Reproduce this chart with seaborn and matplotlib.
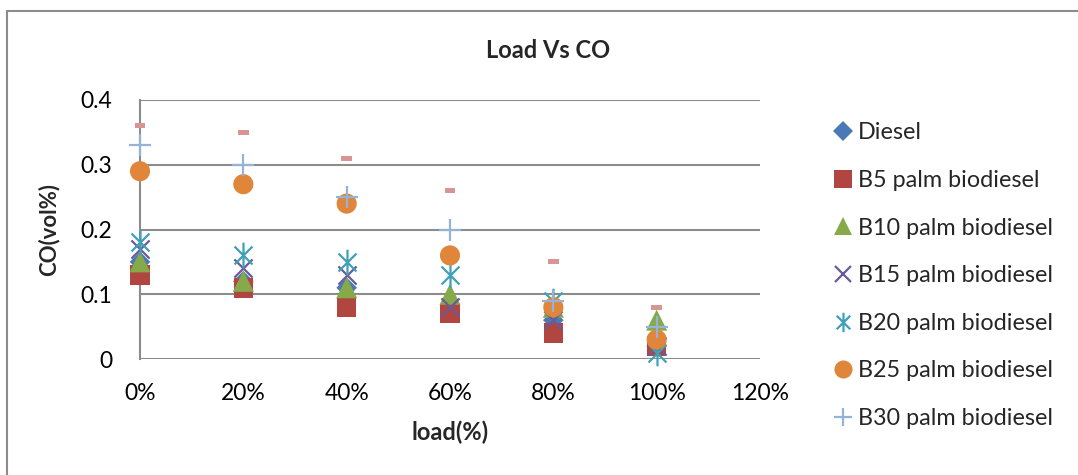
import matplotlib
matplotlib.use("Agg")
import matplotlib.pyplot as plt
import seaborn as sns
import pandas as pd
import numpy as np
from matplotlib.lines import Line2D
from matplotlib.path import Path

# ---- data ----
load = [0.0, 0.2, 0.4, 0.6, 0.8, 1.0]
diesel = [0.15, 0.12, 0.11, 0.08, 0.06, 0.02]
b5 = [0.13, 0.11, 0.08, 0.07, 0.04, 0.02]
b10 = [0.15, 0.12, 0.11, 0.10, 0.08, 0.06]
b15 = [0.17, 0.14, 0.13, 0.08, 0.06, 0.02]
b20 = [0.18, 0.16, 0.15, 0.13, 0.09, 0.01]
b25 = [0.29, 0.27, 0.24, 0.16, 0.08, 0.03]
b30 = [0.33, 0.30, 0.25, 0.20, 0.09, 0.05]
b35 = [0.36, 0.35, 0.31, 0.26, 0.15, 0.08]

series_names = ["Diesel", "B5 palm biodiesel", "B10 palm biodiesel", "B15 palm biodiesel",
                "B20 palm biodiesel", "B25 palm biodiesel", "B30 palm biodiesel", "B35 palm biodiesel"]
series_vals = [diesel, b5, b10, b15, b20, b25, b30, b35]
x_ticks = [0.0, 0.2, 0.4, 0.6, 0.8, 1.0, 1.2]
x_tick_labels = ["0%", "20%", "40%", "60%", "80%", "100%", "120%"]
y_ticks = [0, 0.1, 0.2, 0.3, 0.4]
y_tick_labels = ["0", "0.1", "0.2", "0.3", "0.4"]

sns.set_theme(style="white")
plt.rcParams['font.family'] = ['Lato', 'DejaVu Sans']

dash_marker = [(-1, -0.45), (1, -0.45), (1, 0.45), (-1, 0.45), (-1, -0.45)]
# Excel-style star: X plus vertical line
star_marker = Path([(-0.7, -0.7), (0.7, 0.7), (-0.7, 0.7), (0.7, -0.7), (0, -1), (0, 1)],
                   [Path.MOVETO, Path.LINETO, Path.MOVETO, Path.LINETO, Path.MOVETO, Path.LINETO])
styles = {
    "Diesel": dict(marker="D", color="#4a7ab5", s=110, lw=0),
    "B5 palm biodiesel": dict(marker="s", color="#b0463f", s=200, lw=0),
    "B10 palm biodiesel": dict(marker="^", color="#86a94a", s=230, lw=0),
    "B15 palm biodiesel": dict(marker="x", color="#6a5a9a", s=170, lw=1.6),
    "B20 palm biodiesel": dict(marker=star_marker, color="#40a0b8", s=340, lw=1.6),
    "B25 palm biodiesel": dict(marker="o", color="#e0863a", s=210, lw=0),
    "B30 palm biodiesel": dict(marker="+", color="#95b3d7", s=260, lw=1.6),
    "B35 palm biodiesel": dict(marker=dash_marker, color="#d99594", s=60, lw=0),
}

fig = plt.figure(figsize=(10.78, 4.75), dpi=100)
ax = fig.add_axes([140 / 1078, 1 - 359 / 475, (760 - 140) / 1078, (359 - 100) / 475])

for name, vals in zip(series_names, series_vals):
    df = pd.DataFrame({"load": load, "co": vals})
    st = styles[name]
    sns.scatterplot(data=df, x="load", y="co", ax=ax, marker=st["marker"], color=st["color"],
                    s=st["s"], linewidth=st["lw"], edgecolor=st["color"] if st["lw"] > 0 else "none",
                    zorder=3, clip_on=False, legend=False)

ax.set_xlim(0, 1.2)
ax.set_ylim(0, 0.4)
ax.set_xticks(x_ticks)
ax.set_xticklabels(x_tick_labels, fontsize=16.5)
ax.set_yticks(y_ticks)
ax.set_yticklabels(y_tick_labels, fontsize=16.5)
ax.tick_params(axis="both", length=0, colors="black")
ax.tick_params(axis="x", pad=17)
ax.tick_params(axis="y", pad=20)
ax.grid(axis="y", color="#8c8c8c", linewidth=1.5)
ax.grid(axis="x", visible=False)
for sp in ["top", "right", "bottom"]:
    ax.spines[sp].set_visible(False)
ax.spines["left"].set_color("#8c8c8c")
ax.spines["left"].set_linewidth(1.5)
ax.set_axisbelow(True)

ax.set_xlabel("load(%)", fontsize=17, fontweight="bold", labelpad=12)
ax.set_ylabel("CO(vol%)", fontsize=16, fontweight="bold", labelpad=15)
fig.text(548 / 1078, 1 - 50 / 475, "Load Vs CO", ha="center", va="center",
         fontsize=17, fontweight="bold")

# legend (first 7 series)
handles = []
leg_sizes = {"Diesel": 10, "B5 palm biodiesel": 13, "B10 palm biodiesel": 13, "B15 palm biodiesel": 11,
             "B20 palm biodiesel": 14, "B25 palm biodiesel": 13, "B30 palm biodiesel": 13}
for name in series_names[:7]:
    st = styles[name]
    handles.append(Line2D([], [], linestyle="none", marker=st["marker"], color=st["color"],
                          markersize=leg_sizes[name], markeredgewidth=st["lw"] if st["lw"] > 0 else 0,
                          label=name))
leg = fig.legend(handles=handles, loc="upper left", bbox_to_anchor=(824 / 1078, 1 - 113 / 475),
                 frameon=False, fontsize=16.8, labelspacing=1.14, handlelength=0.8,
                 handletextpad=0.25, borderaxespad=0)

# chart border
fig.add_artist(Line2D([7 / 1078, 1.0], [1 - 11 / 475, 1 - 11 / 475], color="#8c8c8c", lw=1.5,
                      transform=fig.transFigure))
fig.add_artist(Line2D([7 / 1078, 7 / 1078], [0, 1 - 11 / 475], color="#8c8c8c", lw=1.5,
                      transform=fig.transFigure))

fig.savefig("out.png", dpi=100)
